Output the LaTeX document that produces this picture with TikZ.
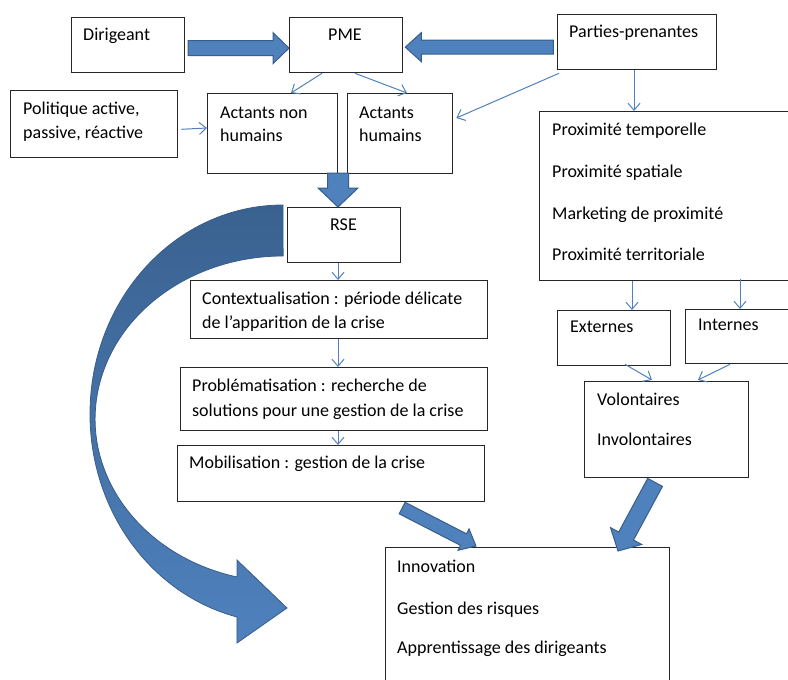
\documentclass[tikz,border=0pt]{standalone}
\usepackage{fontspec}
\setmainfont{Carlito}
\usetikzlibrary{arrows.meta,calc}
\definecolor{connc}{HTML}{4F81BD}
\definecolor{blkfill}{HTML}{4F81BD}
\definecolor{blkline}{HTML}{385D8A}
\definecolor{darkblue}{HTML}{3A6290}
\definecolor{boxline}{HTML}{262626}
\begin{document}
\begin{tikzpicture}[x=1pt,y=-1pt,
  box/.style={draw=boxline, line width=1.3pt, fill=white, inner sep=0pt, anchor=north west},
  txt/.style={anchor=base west, inner sep=0pt, font=\fontsize{18}{21}\selectfont, text=black},
  conn/.style={draw=connc, line width=1pt, -{Straight Barb[length=7pt,width=12pt]}},
  blk/.style={draw=blkline, fill=blkfill, line width=1pt, line join=miter}
]
\useasboundingbox (0,0) rectangle (788,680);
\clip (0,0) rectangle (788,680);

% big curved arrow
\path[top color=darkblue, bottom color=blkfill, middle color=darkblue!50!blkfill, draw=blkline, line width=0.8pt]
  (283,205) arc[start angle=90, end angle=256.2, x radius=193pt, y radius=209pt]
  -- (237,643) -- (287,608) -- (237,560) -- (237,577)
  arc[start angle=255.8, end angle=90, x radius=188pt, y radius=163pt] -- cycle;

% boxes
\node[box, minimum width=113pt, minimum height=55pt] (dir) at (71,17) {};
\node[box, minimum width=113pt, minimum height=55pt] (pme) at (289,17) {};
\node[box, minimum width=159pt, minimum height=55pt] (pp) at (557,14) {};
\node[box, minimum width=167pt, minimum height=67pt] (pol) at (10,90) {};
\node[box, minimum width=130pt, minimum height=80pt] (anh) at (207,93) {};
\node[box, minimum width=105pt, minimum height=80pt] (ah) at (347,93) {};
\node[box, minimum width=261pt, minimum height=169pt] (prox) at (539,111) {};
\node[box, minimum width=113pt, minimum height=55pt] (ext) at (557,310) {};
\node[box, minimum width=115pt, minimum height=54pt] (int) at (685,309) {};
\node[box, minimum width=164pt, minimum height=96pt] (vol) at (584,381) {};
\node[box, minimum width=284pt, minimum height=143pt] (inno) at (385,547) {};
\node[box, minimum width=113pt, minimum height=55pt] (rse) at (287,207) {};
\node[box, minimum width=297pt, minimum height=58pt] (ctx) at (190,280) {};
\node[box, minimum width=307pt, minimum height=63pt] (prob) at (180,367) {};
\node[box, minimum width=307pt, minimum height=56pt] (mob) at (177,445) {};

% texts
\node[txt] at (83,40) {Dirigeant};
\node[txt] at (328,40) {PME};
\node[txt] at (569,37) {Parties-prenantes};
\node[txt] at (23,114) {Politique active,};
\node[txt] at (23,138) {passive, réactive};
\node[txt] at (220,118) {Actants non};
\node[txt] at (220,141) {humains};
\node[txt] at (359,118) {Actants};
\node[txt] at (359,141) {humains};
\node[txt] at (552,135) {Proximité temporelle};
\node[txt] at (552,177) {Proximité spatiale};
\node[txt] at (552,219) {Marketing de proximité};
\node[txt] at (552,260) {Proximité territoriale};
\node[txt] at (570,332) {Externes};
\node[txt] at (698,330) {Internes};
\node[txt] at (597,405) {Volontaires};
\node[txt] at (597,445) {Involontaires};
\node[txt] at (330,230) {RSE};
\node[txt] at (202,304) {Contextualisation : période délicate};
\node[txt] at (202,328) {de l’apparition de la crise};
\node[txt] at (192,391) {Problématisation : recherche de};
\node[txt] at (192,416) {solutions pour une gestion de la crise};
\node[txt] at (189,468) {Mobilisation : gestion de la crise};
\node[txt] at (397,572) {Innovation};
\node[txt] at (397,614) {Gestion des risques};
\node[txt] at (397,653) {Apprentissage des dirigeants};

% thin connectors
\draw[conn] ($(pme.south west)+(33,0)$) -- ($(anh.north west)+(84,0)$);
\draw[conn] ($(pme.south west)+(66,0)$) -- ($(ah.north west)+(60,0)$);
\draw[conn] ($(pol.south east)+(3,-29)$) -- ($(anh.north west)+(0,35)$);
\draw[conn] ($(pp.south west)+(2,3)$) -- ($(ah.north east)+(3,25)$);
\draw[conn] ($(pp.south west)+(77,0)$) -- ($(prox.north west)+(95,0)$);
\draw[conn] ($(rse.south west)+(51,0)$) -- ($(ctx.north west)+(148,0)$);
\draw[conn] ($(ctx.south west)+(148,0)$) -- ($(prob.north west)+(158,0)$);
\draw[conn] ($(prob.south west)+(158,0)$) -- ($(mob.north west)+(161,0)$);
\draw[conn] ($(prox.south west)+(93,0)$) -- ($(ext.north west)+(75,0)$);
\draw[conn] ($(prox.south west)+(201,-2)$) -- ($(int.north west)+(55,0)$);
\draw[conn] ($(ext.south west)+(68,-2)$) -- ($(vol.north west)+(68,-1)$);
\draw[conn] ($(int.south west)+(45,0)$) -- ($(vol.north west)+(114,-1)$);

% block arrows: tips on target nodes
\coordinate (tA) at ($(pme.west)+(0,3)$);
\coordinate (tB) at ($(pme.east)+(2,2)$);
\coordinate (tC) at ($(rse.north west)+(51,0)$);
\coordinate (tD) at ($(inno.north west)+(91,-1)$);
\coordinate (tE) at ($(inno.north west)+(233,4)$);

\begin{scope}[shift={(tA)}]
  \draw[blk] (0,0) -- (-16,15.5) -- (-16,7.5) -- (-101,7.5) -- (-101,-7.5) -- (-16,-7.5) -- (-16,-15.5) -- cycle;
\end{scope}
\begin{scope}[shift={(tB)}, rotate=180]
  \draw[blk] (0,0) -- (-16,14.5) -- (-16,7) -- (-148,7) -- (-148,-7) -- (-16,-7) -- (-16,-14.5) -- cycle;
\end{scope}
\begin{scope}[shift={(tC)}, rotate=-90]
  \draw[blk] (0,0) -- (-19,20) -- (-19,10.5) -- (-34,10.5) -- (-34,-10.5) -- (-19,-10.5) -- (-19,-20) -- cycle;
\end{scope}
\begin{scope}[shift={(tD)}, rotate=-27.2]
  \draw[blk] (0,0) -- (-14,12) -- (-14,6.5) -- (-83,6.5) -- (-83,-6.5) -- (-14,-6.5) -- (-14,-12) -- cycle;
\end{scope}
\begin{scope}[shift={(tE)}, rotate=-118.4]
  \draw[blk] (0,0) -- (-17,17.7) -- (-17,8.4) -- (-78,8.4) -- (-78,-8.4) -- (-17,-8.4) -- (-17,-17.7) -- cycle;
\end{scope}
\end{tikzpicture}
\end{document}
